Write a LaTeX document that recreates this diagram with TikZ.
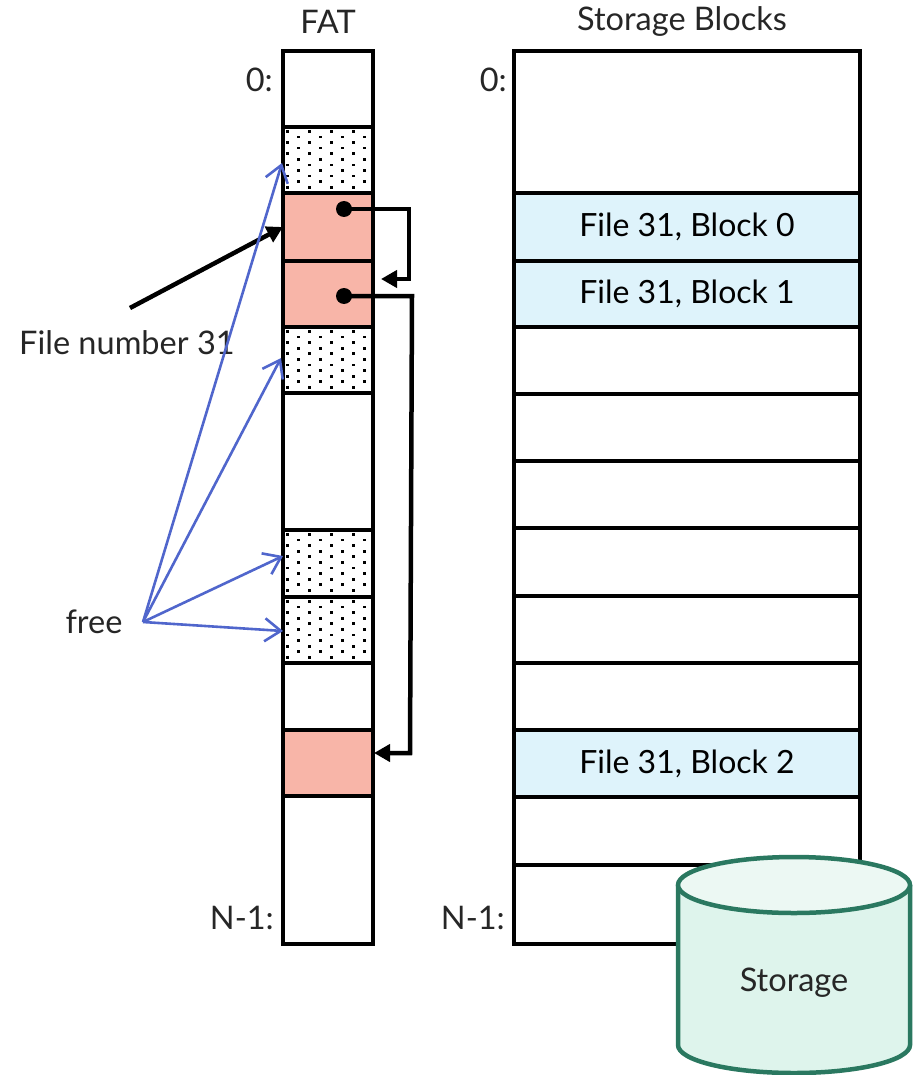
\documentclass[tikz,border=0pt]{standalone}
\usepackage{fontspec}
\setmainfont{Lato}
\usetikzlibrary{arrows.meta}
\definecolor{pinkc}{RGB}{248,181,168}
\definecolor{bluec}{RGB}{222,243,251}
\definecolor{freec}{RGB}{80,102,204}
\definecolor{cylline}{RGB}{42,120,96}
\definecolor{cylfill}{RGB}{222,244,236}
\definecolor{cyltop}{RGB}{236,248,243}
\tikzset{
  cell/.style={draw=black, line width=4pt, minimum width=90pt, inner sep=0pt, outer sep=0pt},
  sblock/.style={draw=black, line width=4pt, minimum width=346pt, inner sep=0pt, outer sep=0pt, font=\fontsize{32}{36}\selectfont},
  lbl/.style={font=\fontsize{32.5}{36}\selectfont, inner sep=0pt, text=black!85},
  ptr/.style={line width=4.5pt, -{Triangle[length=16pt,width=17pt]}},
  freearrow/.style={draw=freec, line width=2.6pt, -{Straight Barb[length=16pt,width=23pt]}},
  dotc/.style={fill=black, circle, inner sep=0pt, minimum size=16pt}
}
\newcommand{\fatdots}[4]{%
  \begin{scope}
    \clip (#1,#2) rectangle (#3,#4);
    \foreach \yy [count=\i] in {0,5.6,...,70}{
      \pgfmathsetmacro{\off}{mod(\i,2)*11}
      \foreach \xx in {-11,11,...,100}{
        \fill (#1+\xx+\off+1, #2+\yy+1) rectangle ++(2.7,2.7);
      }
    }
  \end{scope}}
\begin{document}
\begin{tikzpicture}[x=1pt,y=-1pt]
\useasboundingbox (0,0) rectangle (912,1075);
% FAT cells
\node[cell, minimum height=76pt] (f0) at (328,89) {};
\node[cell, minimum height=66pt] (f1) at (328,160) {};
\node[cell, minimum height=68pt, fill=pinkc] (f2) at (328,227) {};
\node[cell, minimum height=66pt, fill=pinkc] (f3) at (328,294) {};
\node[cell, minimum height=66pt] (f4) at (328,360) {};
\node[cell, minimum height=137pt] (f5) at (328,461.5) {};
\node[cell, minimum height=67pt] (f6) at (328,563.5) {};
\node[cell, minimum height=66pt] (f7) at (328,630) {};
\node[cell, minimum height=67pt] (f8) at (328,696.5) {};
\node[cell, minimum height=66pt, fill=pinkc] (f9) at (328,763) {};
\node[cell, minimum height=148pt] (f10) at (328,870) {};
\fatdots{285}{129}{371}{191}
\fatdots{285}{329}{371}{391}
\fatdots{285}{532}{371}{595}
\fatdots{285}{599}{371}{661}
\foreach \n in {f1,f4,f6,f7}{\draw[line width=4pt] (\n.north west) rectangle (\n.south east);}
% Storage blocks
\node[sblock, minimum height=142pt] (s0) at (687,122) {};
\node[sblock, minimum height=68pt, fill=bluec] (s1) at (687,227) {File 31, Block 0};
\node[sblock, minimum height=66pt, fill=bluec] (s2) at (687,294) {File 31, Block 1};
\node[sblock, minimum height=67pt] (s3) at (687,360.5) {};
\node[sblock, minimum height=67pt] (s4) at (687,427.5) {};
\node[sblock, minimum height=67pt] (s5) at (687,494.5) {};
\node[sblock, minimum height=68pt] (s6) at (687,562) {};
\node[sblock, minimum height=67pt] (s7) at (687,629.5) {};
\node[sblock, minimum height=67pt] (s8) at (687,696.5) {};
\node[sblock, minimum height=67pt, fill=bluec] (s9) at (687,763.5) {File 31, Block 2};
\node[sblock, minimum height=68pt] (s10) at (687,831) {};
\node[sblock, minimum height=79pt] (s11) at (687,904.5) {};
% titles and labels
\node[lbl] (tfat) at (328,22) {FAT};
\node[lbl] (tsb) at (682,22) {Storage Blocks};
\node[lbl, anchor=east] (z1) at (273,80) {0:};
\node[lbl, anchor=east] (z2) at (507,80) {0:};
\node[lbl, anchor=east] (n1) at (274,918) {N-1:};
\node[lbl, anchor=east] (n2) at (505,918) {N-1:};
\node[lbl, anchor=west] (fn) at (19,343) {File number 31};
\node[lbl] (free) at (94,622) {free};
% pointers
\coordinate (fnstart) at (130,308);
\draw[ptr] (fnstart) -- (f2.west);
\node[dotc] (d1) at (344,209) {};
\node[dotc] (d2) at (344,296) {};
\draw[ptr] (d1.center) -- (409,209) -- (409,279) -- ([xshift=8pt]f3.east |- 0,279);
\draw[ptr] (d2.center) -- (412,296) -- (410,753) -- ([xshift=1pt]f9.east |- 0,753);
% free arrows
\coordinate (fo) at (143,622);
\draw[freearrow] (fo) -- (282,163);
\draw[freearrow] (fo) -- (281,358);
\draw[freearrow] (fo) -- (283,556);
\draw[freearrow] (fo) -- (283,631);
% storage cylinder
\fill[cylfill] (678,885) -- (678,1045) arc[start angle=180, end angle=0, x radius=116, y radius=28] -- (910,885) -- cycle;
\draw[cylline, line width=4.5pt] (678,885) -- (678,1045) arc[start angle=180, end angle=0, x radius=116, y radius=28] -- (910,885);
\draw[cylline, line width=4.5pt, fill=cyltop] (794,885) ellipse[x radius=116, y radius=28];
\node[lbl] (storage) at (794,983) {Storage};
\end{tikzpicture}
\end{document}
